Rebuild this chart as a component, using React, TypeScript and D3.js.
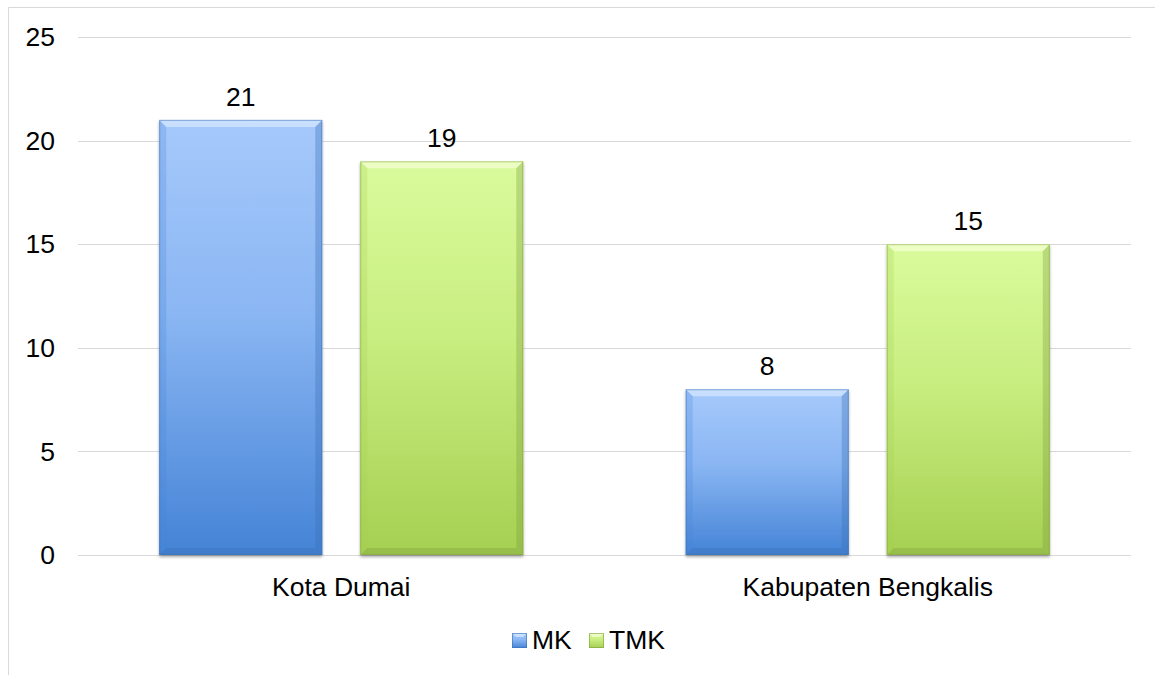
import React from "react";
import * as d3 from "d3";

const categories = ["Kota Dumai", "Kabupaten Bengkalis"];
const seriesNames = ["MK", "TMK"];
const mkValues = [21, 8];
const tmkValues = [19, 15];
const yTicks = [0, 5, 10, 15, 20, 25];

const W = 1155;
const H = 675;
const plot = { left: 78, right: 1131, top: 37, bottom: 555 };
const FONT = "'Liberation Sans', Arial, sans-serif";
const FS = 26.5;

const palettes = [
  { top: "#a6c9fb", mid: "#8ab6f3", bottom: "#4483d6", edge: "#3a6fb5", light: "#d4e6ff" },
  { top: "#dafb9c", mid: "#c8ed80", bottom: "#a5d051", edge: "#7f9f3e", light: "#f1ffd0" },
];

export default function App() {
  const x0 = d3.scaleBand<string>().domain(categories).range([plot.left, plot.right]).paddingInner(0).paddingOuter(0);
  const x1 = d3.scaleBand<string>().domain(seriesNames).range([0, x0.bandwidth()]).paddingInner(0.189).paddingOuter(0.404);
  const y = d3.scaleLinear().domain([0, 25]).range([plot.bottom, plot.top]);
  const values = [mkValues, tmkValues];
  const bev = 7;

  return (
    <div style={{ position: "absolute", left: 0, top: 0 }}>
      <svg width={W} height={H} style={{ display: "block", fontFamily: FONT }}>
        <defs>
          {palettes.map((p, i) => (
            <linearGradient key={i} id={`g${i}`} x1="0" y1="0" x2="0" y2="1">
              <stop offset="0%" stopColor={p.top} />
              <stop offset="45%" stopColor={p.mid} />
              <stop offset="100%" stopColor={p.bottom} />
            </linearGradient>
          ))}
          <filter id="sh" x="-10%" y="-10%" width="120%" height="120%">
            <feGaussianBlur in="SourceAlpha" stdDeviation="1.5" />
            <feOffset dx="0" dy="2" result="b" />
            <feComponentTransfer>
              <feFuncA type="linear" slope="0.35" />
            </feComponentTransfer>
            <feMerge>
              <feMergeNode />
              <feMergeNode in="SourceGraphic" />
            </feMerge>
          </filter>
        </defs>
        <rect x={0} y={0} width={W} height={H} fill="#ffffff" />
        <line x1={8.5} y1={7.5} x2={W} y2={7.5} stroke="#d9d9d9" strokeWidth={1} />
        <line x1={8.5} y1={7.5} x2={8.5} y2={H} stroke="#d9d9d9" strokeWidth={1} />

        {yTicks.map((t) => (
          <g key={t}>
            <line x1={plot.left} x2={plot.right} y1={Math.round(y(t)) + 0.5} y2={Math.round(y(t)) + 0.5} stroke="#d9d9d9" strokeWidth={1} />
            <text x={55} y={y(t)} dy="0.35em" textAnchor="end" fontSize={FS} fill="#000">
              {t}
            </text>
          </g>
        ))}

        {categories.map((c, ci) =>
          seriesNames.map((s, si) => {
            const v = values[si][ci];
            const bx = (x0(c) as number) + (x1(s) as number);
            const bw = x1.bandwidth();
            const by = y(v);
            const bh = y(0) - by;
            const p = palettes[si];
            return (
              <g key={`${c}-${s}`}>
                <g filter="url(#sh)">
                  <rect x={bx} y={by} width={bw} height={bh} fill={`url(#g${si})`} />
                </g>
                <polygon points={`${bx},${by} ${bx + bw},${by} ${bx + bw - bev},${by + bev} ${bx + bev},${by + bev}`} fill={p.light} opacity={0.75} />
                <polygon points={`${bx},${by} ${bx + bev},${by + bev} ${bx + bev},${by + bh - bev} ${bx},${by + bh}`} fill={p.bottom} opacity={0.25} />
                <polygon points={`${bx + bw},${by} ${bx + bw - bev},${by + bev} ${bx + bw - bev},${by + bh - bev} ${bx + bw},${by + bh}`} fill={p.edge} opacity={0.35} />
                <polygon points={`${bx},${by + bh} ${bx + bev},${by + bh - bev} ${bx + bw - bev},${by + bh - bev} ${bx + bw},${by + bh}`} fill={p.edge} opacity={0.35} />
                <rect x={bx + 0.5} y={by + 0.5} width={bw - 1} height={bh - 1} fill="none" stroke={p.edge} strokeOpacity={0.5} strokeWidth={1} />
                <text x={bx + bw / 2} y={by - 14} textAnchor="middle" fontSize={FS} fill="#000">
                  {v}
                </text>
              </g>
            );
          })
        )}

        {categories.map((c) => (
          <text key={c} x={(x0(c) as number) + x0.bandwidth() / 2} y={596} textAnchor="middle" fontSize={FS} fill="#000">
            {c}
          </text>
        ))}

        {seriesNames.map((s, si) => {
          const lx = [512, 589][si];
          const p = palettes[si];
          return (
            <g key={s}>
              <rect x={lx} y={633} width={15} height={15} fill={`url(#g${si})`} />
              <polygon points={`${lx},633 ${lx + 15},633 ${lx + 11},637 ${lx + 4},637`} fill={p.light} opacity={0.8} />
              <rect x={lx + 0.5} y={633.5} width={14} height={14} fill="none" stroke={p.edge} strokeOpacity={0.6} />
              <text x={lx + 20} y={649} fontSize={FS} fill="#000">
                {s}
              </text>
            </g>
          );
        })}
      </svg>
    </div>
  );
}
